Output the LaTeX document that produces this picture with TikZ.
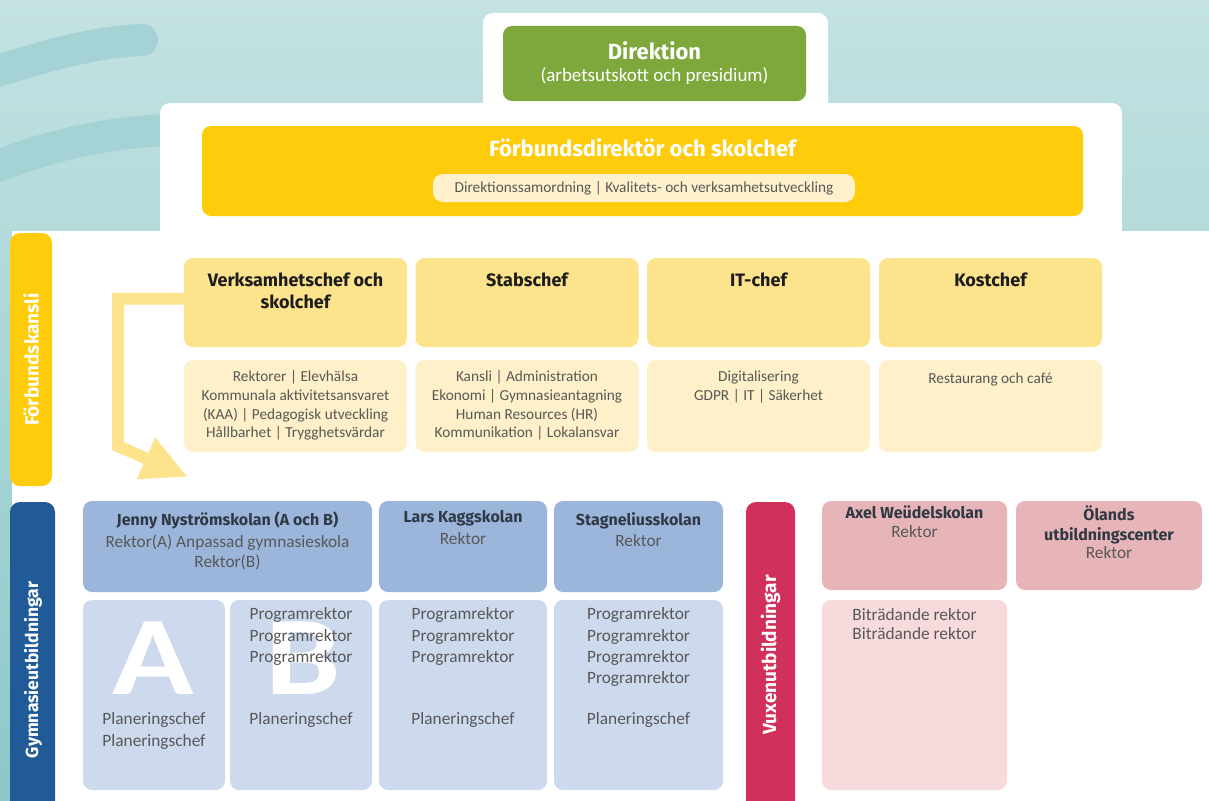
\documentclass[tikz,border=0pt]{standalone}
\usepackage{fontspec}
\setmainfont{Carlito}
\newfontfamily\rubrik{Fira Sans}
\usetikzlibrary{arrows.meta}

\definecolor{bgljus}{HTML}{C4E2E2}
\definecolor{bgmork}{HTML}{8CC8C7}
\definecolor{bgband}{HTML}{A5D2D5}
\definecolor{dirgron}{HTML}{7EA83B}
\definecolor{fgul}{HTML}{FECC0A}
\definecolor{pillgul}{HTML}{FEF1CC}
\definecolor{chefgul}{HTML}{FDE38C}
\definecolor{ljusgul}{HTML}{FEF0C8}
\definecolor{gymblå}{HTML}{215B97}
\definecolor{rubblå}{HTML}{9CB5DB}
\definecolor{ljusblå}{HTML}{CDD9EC}
\definecolor{vuxröd}{HTML}{D1305C}
\definecolor{rubrosa}{HTML}{E7B4B7}
\definecolor{ljusrosa}{HTML}{F6DADC}
\definecolor{textsvart}{HTML}{1C1C1C}
\definecolor{textgra}{HTML}{585858}
\definecolor{textmork}{HTML}{2F3945}

\tikzset{
  panel/.style={fill=white, rounded corners=10pt},
  band/.style={draw=bgband, line width=32pt, line cap=round},
  box/.style={rounded corners=9pt, inner sep=0pt},
  chefbox/.style={box, fill=chefgul, minimum width=223pt, minimum height=89pt},
  omrbox/.style={box, fill=ljusgul, minimum width=223pt, minimum height=92pt},
  rubbox/.style={box, fill=rubblå, minimum height=91pt},
  skolbox/.style={box, fill=ljusblå, minimum height=190pt},
  vuxbox/.style={box, fill=rubrosa, minimum width=185pt, minimum height=89pt},
  strip/.style={box, rounded corners=10pt},
  stripetikett/.style={rotate=90, text=white, font=\rubrik\bfseries\fontsize{19}{22}\selectfont},
  titel/.style={anchor=north, inner sep=0pt, align=center, text=textsvart,
    font=\rubrik\bfseries\fontsize{18}{22}\selectfont},
  brod/.style={anchor=north, inner sep=0pt, align=center, text=textgra,
    font=\fontsize{15.3}{18.7}\selectfont},
  skoltitel/.style={anchor=north, inner sep=0pt, align=center, text=textmork,
    font=\rubrik\bfseries\fontsize{16}{21}\selectfont},
  skolbrod/.style={anchor=north, inner sep=0pt, align=center, text=textgra,
    font=\fontsize{17.3}{21.3}\selectfont},
  stor/.style={text=white, inner sep=0pt, font=\bfseries\fontsize{112}{112}\selectfont},
}

\begin{document}
\begin{tikzpicture}[x=1pt, y=-1pt]
  \useasboundingbox (0,0) rectangle (1209,800);
  % bakgrund
  \shade[top color=bgljus, bottom color=bgmork] (0,0) rectangle (1209,800);
  \draw[band] (-30,80) .. controls (30,60) and (90,42) .. (142,40);
  \draw[band] (-30,178) .. controls (30,150) and (100,132) .. (170,130);
  \fill[panel] (483,13) rectangle (828,130);
  \fill[panel] (160,103) rectangle (1122,250);
  \fill[panel, sharp corners] (12,231) rectangle (1220,812);

  % direktion
  \node[box, fill=dirgron, minimum width=303pt, minimum height=75pt] (dir) at (654.5,63.5) {};
  \node[anchor=north, inner sep=0pt, text=white, font=\rubrik\bfseries\fontsize{22}{26}\selectfont]
    (dirtitel) at (654.5,41.5) {Direktion};
  \node[anchor=north, inner sep=0pt, text=white, font=\fontsize{19}{22}\selectfont]
    (dirtext) at (654.5,67) {(arbetsutskott och presidium)};

  % förbundsdirektör
  \node[box, fill=fgul, minimum width=881pt, minimum height=90pt] (fdir) at (642.5,171) {};
  \node[anchor=north, inner sep=0pt, text=white, font=\rubrik\bfseries\fontsize{22}{26}\selectfont]
    (fdirtitel) at (642.5,138.5) {Förbundsdirektör och skolchef};
  \node[box, rounded corners=10pt, fill=pillgul, minimum width=422pt, minimum height=28pt,
    text=textgra, font=\fontsize{15.3}{18}\selectfont] (samord) at (644,188)
    {Direktionssamordning | Kvalitets- och verksamhetsutveckling};

  % förbundskansli
  \node[strip, fill=fgul, minimum width=42pt, minimum height=253pt] (kansli) at (31,359.5) {};
  \node[stripetikett] at (kansli.center) {Förbundskansli};

  \node[chefbox] (vc) at (295.5,302.5) {};
  \node[chefbox] (stab) at (527,302.5) {};
  \node[chefbox] (it) at (758.5,302.5) {};
  \node[chefbox] (kost) at (990.5,302.5) {};
  \node[titel] at (295.5,272.5) {Verksamhetschef och\\skolchef};
  \node[titel] at (527,272.5) {Stabschef};
  \node[titel] at (758.5,272.5) {IT-chef};
  \node[titel] at (990.5,272.5) {Kostchef};

  \node[omrbox] (vcomr) at (295.5,406) {};
  \node[omrbox] (stabomr) at (527,406) {};
  \node[omrbox] (itomr) at (758.5,406) {};
  \node[omrbox] (kostomr) at (990.5,406) {};
  \node[brod] at (295.5,370.5) {Rektorer | Elevhälsa\\Kommunala aktivitetsansvaret\\(KAA) | Pedagogisk utveckling\\Hållbarhet | Trygghetsvärdar};
  \node[brod] at (527,370.5) {Kansli | Administration\\Ekonomi | Gymnasieantagning\\Human Resources (HR)\\Kommunikation | Lokalansvar};
  \node[brod] at (758.5,370.5) {Digitalisering\\GDPR | IT | Säkerhet};
  \node[brod] at (990.5,372.5) {Restaurang och café};

  \coordinate (pilmal) at (188,477);
  \draw[chefgul, line width=12pt, -{Triangle[length=46pt, width=42pt]}]
    ([yshift=4pt]vc.west) -- (118,298.5) -- (118,446) -- (pilmal);

  % gymnasieutbildningar
  \node[strip, fill=gymblå, minimum width=45pt, minimum height=318pt] (gym) at (32.5,661) {};
  \node[stripetikett, font=\rubrik\bfseries\fontsize{17.5}{20}\selectfont] at (33,670) {Gymnasieutbildningar};

  \node[rubbox, minimum width=289pt] (jenny) at (227.5,546.5) {};
  \node[rubbox, minimum width=168pt] (lars) at (463,546.5) {};
  \node[rubbox, minimum width=169pt] (stag) at (638.5,546.5) {};
  \node[skoltitel] at (227.5,512) {Jenny Nyströmskolan (A och B)};
  \node[skolbrod, font=\fontsize{17.3}{20}\selectfont] at (227.5,534.5) {Rektor(A) Anpassad gymnasieskola\\Rektor(B)};
  \node[skoltitel] at (463,510) {Lars Kaggskolan};
  \node[skolbrod] at (463,532.5) {Rektor};
  \node[skoltitel] at (638.5,512) {Stagneliusskolan};
  \node[skolbrod] at (638.5,534.5) {Rektor};

  \node[skolbox, minimum width=142pt] (jennya) at (154,695) {};
  \node[skolbox, minimum width=142pt] (jennyb) at (301,695) {};
  \node[skolbox, minimum width=168pt] (larsprog) at (463,695) {};
  \node[skolbox, minimum width=169pt] (stagprog) at (638.5,695) {};
  \node[stor] at (153,658) {\scalebox{1.2}[1]{A}};
  \node[stor] at (303,658) {\scalebox{1.2}[1]{B}};
  \node[skolbrod] at (154,712.5) {Planeringschef\\Planeringschef};
  \node[skolbrod] at (301,607.5) {Programrektor\\Programrektor\\Programrektor};
  \node[skolbrod] at (301,712.5) {Planeringschef};
  \node[skolbrod] at (463,607.5) {Programrektor\\Programrektor\\Programrektor};
  \node[skolbrod] at (463,712.5) {Planeringschef};
  \node[skolbrod] at (638.5,607.5) {Programrektor\\Programrektor\\Programrektor\\Programrektor};
  \node[skolbrod] at (638.5,712.5) {Planeringschef};

  % vuxenutbildningar
  \node[strip, fill=vuxröd, minimum width=49pt, minimum height=318pt] (vux) at (770.5,661) {};
  \node[stripetikett] at (770.5,655) {Vuxenutbildningar};

  \node[vuxbox] (axel) at (914.5,545.5) {};
  \node[vuxbox, minimum width=186pt] (oland) at (1109,545.5) {};
  \node[skoltitel] at (914.5,506) {Axel Weüdelskolan};
  \node[skolbrod] at (914.5,525.5) {Rektor};
  \node[skoltitel, font=\rubrik\bfseries\fontsize{16}{20.5}\selectfont] at (1109,505) {Ölands\\utbildningscenter};
  \node[skolbrod] at (1109,546.5) {Rektor};

  \node[box, fill=ljusrosa, minimum width=185pt, minimum height=190pt] (axelbitr) at (914.5,695) {};
  \node[skolbrod, font=\fontsize{17.3}{18.5}\selectfont] at (914.5,608.5) {Biträdande rektor\\Biträdande rektor};
\end{tikzpicture}
\end{document}
